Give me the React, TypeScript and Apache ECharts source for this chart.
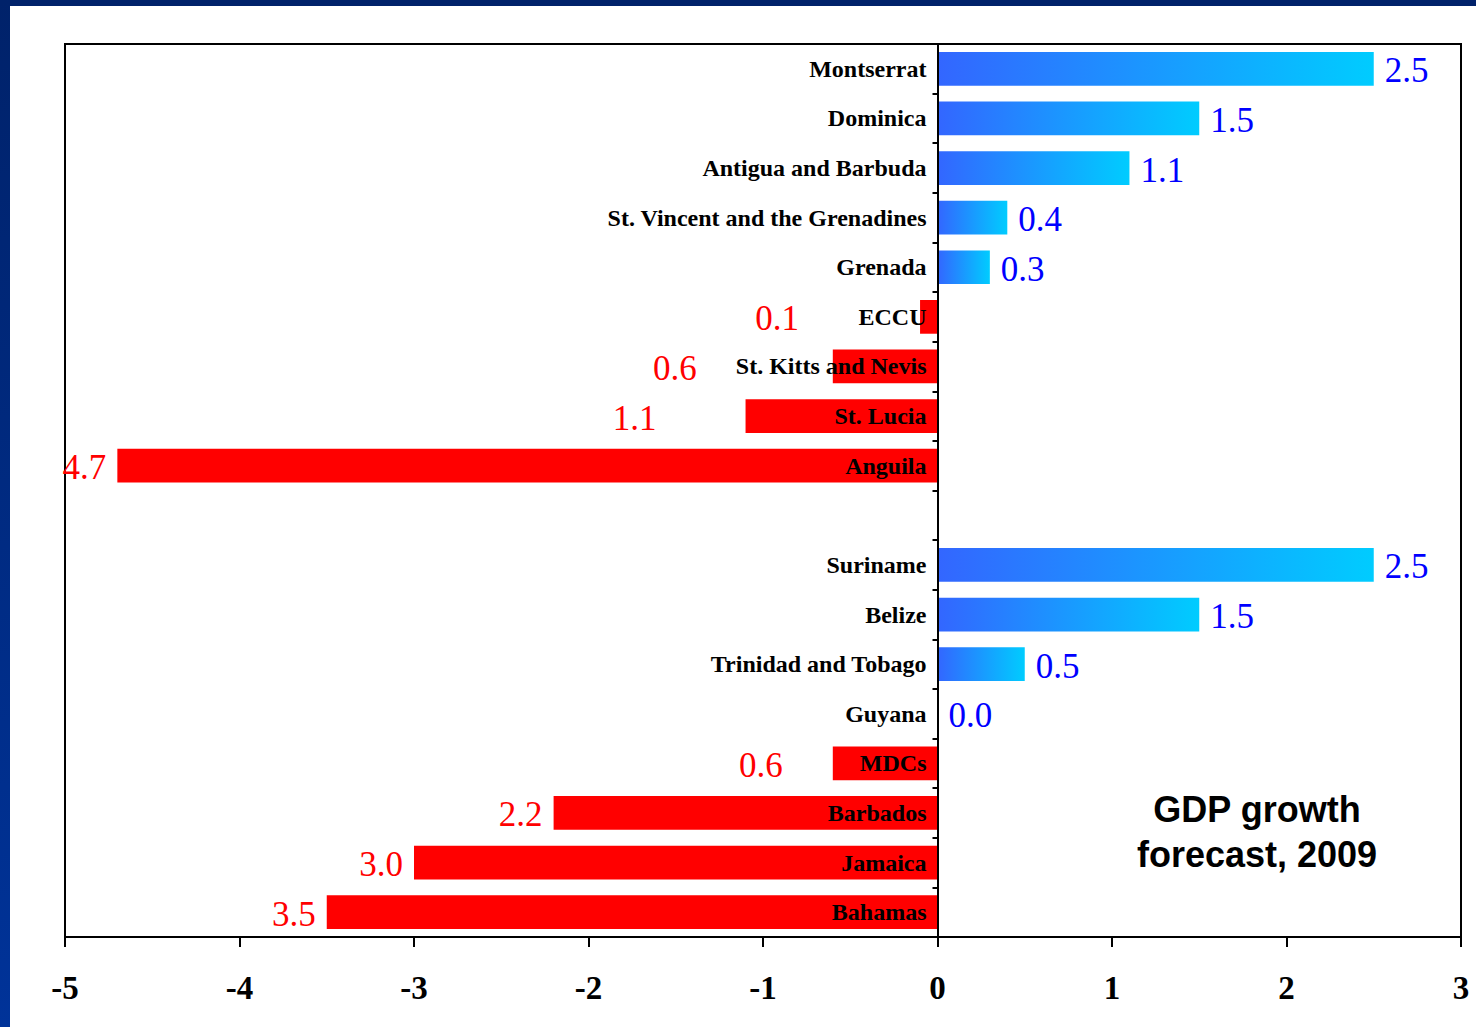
import React, { useEffect, useRef } from "react";
import * as echarts from "echarts";

// Caribbean GDP growth forecast, 2009 (per cent)
const countries = [
  "Montserrat",
  "Dominica",
  "Antigua and Barbuda",
  "St. Vincent and the Grenadines",
  "Grenada",
  "ECCU",
  "St. Kitts and Nevis",
  "St. Lucia",
  "Anguila",
  "",
  "Suriname",
  "Belize",
  "Trinidad and Tobago",
  "Guyana",
  "MDCs",
  "Barbados",
  "Jamaica",
  "Bahamas",
];

const growth: (number | null)[] = [
  2.5, 1.5, 1.1, 0.4, 0.3, -0.1, -0.6, -1.1, -4.7,
  null,
  2.5, 1.5, 0.5, 0.0, -0.6, -2.2, -3.0, -3.5,
];

const xTicks = { min: -5, max: 3, step: 1 };

// Some negative value labels are nudged left so they clear the country name.
const labelNudge: Record<string, number> = {
  ECCU: -110,
  "St. Kitts and Nevis": -125,
  "St. Lucia": -78,
  MDCs: -39,
};

const SERIF = "'Liberation Serif', 'Times New Roman', serif";
const SANS = "'Liberation Sans', Arial, sans-serif";

const GRID = { left: 65, top: 44, width: 1396, height: 893 };

export default function App() {
  const ref = useRef<HTMLDivElement>(null);

  useEffect(() => {
    if (!ref.current) return;
    const chart = echarts.init(ref.current, null, { renderer: "svg" });

    const posFill = new echarts.graphic.LinearGradient(0, 0, 1, 0, [
      { offset: 0, color: "#3366FF" },
      { offset: 1, color: "#00CCFF" },
    ]);

    const data = growth.map((v, i) => {
      if (v === null) return "-";
      const neg = v < 0;
      const nudge = labelNudge[countries[i]] || 0;
      return {
        value: v,
        itemStyle: { color: neg ? "#FF0000" : posFill },
        label: {
          position: neg ? "left" : "right",
          color: neg ? "#FF0000" : "#0000FF",
          offset: [nudge, 2],
        },
      };
    });

    // The category axis sits on the zero line: shift it right from the grid's left edge.
    const zeroShift =
      (GRID.width * (0 - xTicks.min)) / (xTicks.max - xTicks.min);

    chart.setOption({
      animation: false,
      backgroundColor: "#FFFFFF",
      grid: {
        ...GRID,
        containLabel: false,
        outerBoundsMode: "none",
        show: true,
        borderColor: "#000000",
        borderWidth: 2,
        backgroundColor: "transparent",
      },
      xAxis: {
        type: "value",
        min: xTicks.min,
        max: xTicks.max,
        interval: xTicks.step,
        axisLine: { show: true, onZero: false, lineStyle: { color: "#000", width: 2 } },
        axisTick: { show: true, length: 10, lineStyle: { color: "#000", width: 2 } },
        axisLabel: {
          color: "#000",
          fontFamily: SERIF,
          fontWeight: "bold",
          fontSize: 33,
          margin: 34,
        },
        splitLine: { show: false },
      },
      yAxis: {
        type: "category",
        inverse: true,
        data: countries,
        position: "left",
        offset: -zeroShift,
        z: 10,
        axisLine: { show: true, onZero: false, lineStyle: { color: "#000", width: 2 } },
        axisTick: { show: true, length: 5, alignWithLabel: false, lineStyle: { color: "#000", width: 2 } },
        axisLabel: {
          color: "#000",
          fontFamily: SERIF,
          fontWeight: "bold",
          fontSize: 24,
          margin: 11,
        },
      },
      series: [
        {
          type: "bar",
          data,
          barWidth: "68%",
          label: {
            show: true,
            distance: 11,
            fontFamily: SERIF,
            fontSize: 35,
            formatter: (p: any) => Math.abs(p.value).toFixed(1),
          },
        },
      ],
      graphic: [
        {
          type: "rect",
          shape: { x: 0, y: 0, width: 1476, height: 6 },
          style: { fill: "#00226A" },
          z: 100,
        },
        {
          type: "rect",
          shape: { x: 0, y: 0, width: 10, height: 1027 },
          style: {
            fill: new echarts.graphic.LinearGradient(0, 0, 0, 1, [
              { offset: 0, color: "#00226A" },
              { offset: 1, color: "#003399" },
            ]),
          },
          z: 100,
        },
        {
          type: "text",
          x: 1257,
          y: 809,
          z: 100,
          style: {
            text: "GDP growth",
            fill: "#000",
            font: `bold 36px ${SANS}`,
            textAlign: "center",
            textVerticalAlign: "middle",
          },
        },
        {
          type: "text",
          x: 1257,
          y: 854,
          z: 100,
          style: {
            text: "forecast, 2009",
            fill: "#000",
            font: `bold 36px ${SANS}`,
            textAlign: "center",
            textVerticalAlign: "middle",
          },
        },
      ],
    });

    return () => chart.dispose();
  }, []);

  return (
    <div
      ref={ref}
      style={{ position: "fixed", left: 0, top: 0, width: 1476, height: 1027 }}
    />
  );
}
